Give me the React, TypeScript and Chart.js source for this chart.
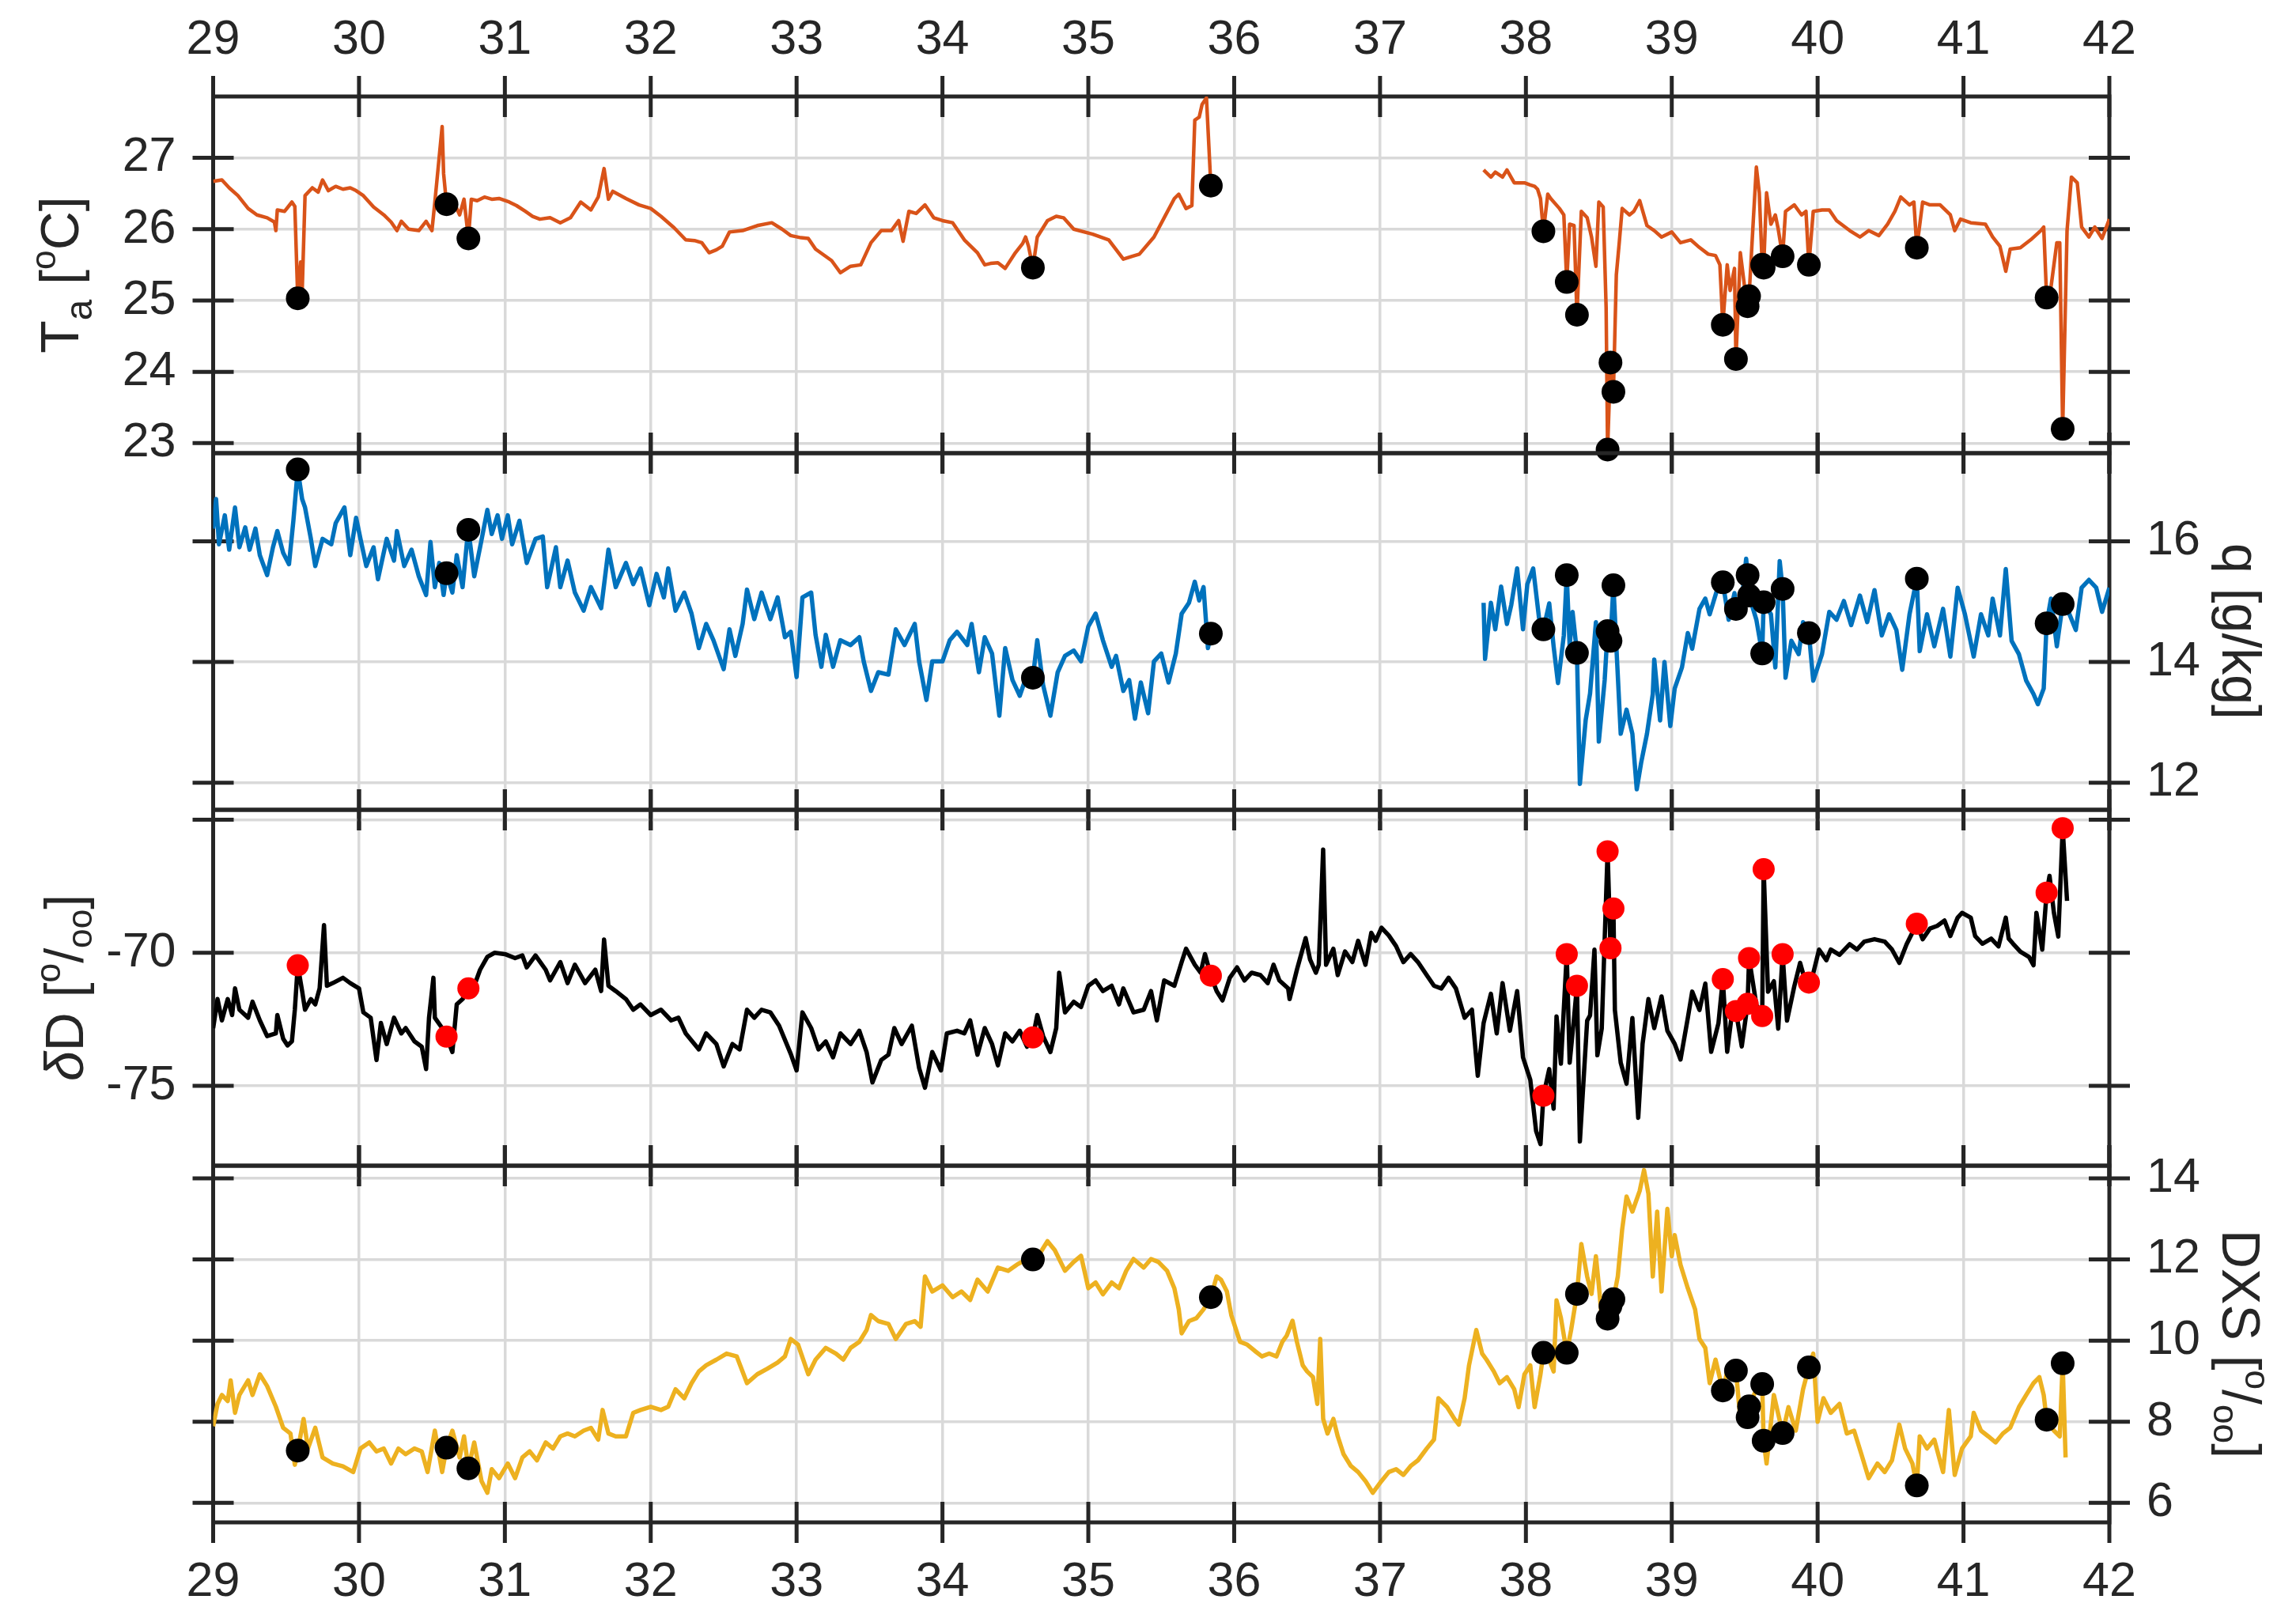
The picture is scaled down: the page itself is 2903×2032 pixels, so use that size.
import React, { useEffect, useRef } from 'react';
import { Chart, registerables } from 'chart.js';

Chart.register(...registerables);

// ---------------- data ----------------
const X_TICKS = [29, 30, 31, 32, 33, 34, 35, 36, 37, 38, 39, 40, 41, 42];
const TA_TICKS = [23, 24, 25, 26, 27];
const TA_TICK_LABELS = ['23', '24', '25', '26', '27'];
const Q_TICKS = [12, 14, 16];
const Q_TICK_LABELS = ['12', '14', '16'];
const DD_TICKS = [-75, -70, -65];
const DD_TICK_LABELS = ['-75', '-70', ''];
const DXS_TICKS = [6, 8, 10, 12, 14];
const DXS_TICK_LABELS = ['6', '8', '10', '12', '14'];

// sampling times (day of month) of the discrete samples (dots)
const SAMPLE_DAYS = [29.58, 30.6, 30.75, 34.62, 35.84, 38.12, 38.28, 38.35, 38.56, 38.58, 38.6, 39.35, 39.44, 39.52, 39.53, 39.62, 39.63, 39.76, 39.94, 40.68, 41.57, 41.68];
const TA_SAMPLES = [25.03, 26.35, 25.87, 25.46, 26.61, 25.97, 25.26, 24.8, 22.91, 24.13, 23.72, 24.66, 24.18, 24.92, 25.06, 25.5, 25.46, 25.62, 25.5, 25.74, 25.04, 23.2];
const Q_SAMPLES = [17.19, 15.47, 16.19, 13.74, 14.47, 14.54, 15.44, 14.15, 14.51, 14.35, 15.27, 15.32, 14.88, 15.44, 15.1, 14.14, 14.99, 15.21, 14.48, 15.38, 14.64, 14.96];
const DD_SAMPLES = [-70.47, -73.15, -71.34, -73.18, -70.86, -75.37, -70.05, -71.24, -66.19, -69.83, -68.34, -70.99, -72.19, -71.92, -70.2, -72.38, -66.86, -70.05, -71.12, -68.91, -67.74, -65.32];
const DXS_SAMPLES = [7.29, 7.36, 6.85, 12.0, 11.07, 9.7, 9.7, 11.15, 10.54, 10.85, 11.02, 8.77, 9.26, 8.11, 8.38, 8.93, 7.53, 7.72, 9.34, 6.43, 8.05, 9.44];

// continuous records [day, value] (null = no data)
const TA_TRACE: [number, number | null][] = [
  [29.0, 26.67], [29.06, 26.69], [29.11, 26.58], [29.17, 26.47], [29.24, 26.29], [29.3, 26.2], [29.37, 26.16], [29.42, 26.1], [29.43, 25.98], [29.44, 26.27],
  [29.49, 26.25], [29.54, 26.38], [29.56, 26.32], [29.6, 25.54], [29.61, 25.1], [29.63, 26.47], [29.68, 26.58], [29.72, 26.52], [29.75, 26.69], [29.79, 26.54],
  [29.84, 26.6], [29.89, 26.56], [29.94, 26.58], [29.98, 26.54], [30.03, 26.47], [30.1, 26.31], [30.17, 26.2], [30.22, 26.1], [30.26, 25.98], [30.29, 26.11],
  [30.34, 26.0], [30.41, 25.98], [30.46, 26.11], [30.5, 25.98], [30.52, 26.38], [30.57, 27.44], [30.58, 26.78], [30.65, 26.38], [30.69, 26.2], [30.72, 26.42],
  [30.77, 26.42], [30.81, 26.4], [30.86, 26.45], [30.91, 26.42], [30.96, 26.43], [31.03, 26.38], [31.08, 26.33], [31.14, 26.25], [31.19, 26.18], [31.24, 26.14],
  [31.31, 26.16], [31.38, 26.09], [31.45, 26.16], [31.52, 26.38], [31.59, 26.27], [31.64, 26.45], [31.68, 26.85], [31.71, 26.42], [31.74, 26.53], [31.83, 26.43],
  [31.92, 26.34], [32.0, 26.29], [32.07, 26.18], [32.16, 26.02], [32.24, 25.85], [32.3, 25.84], [32.35, 25.81], [32.4, 25.67], [32.45, 25.71], [32.49, 25.76],
  [32.54, 25.96], [32.63, 25.98], [32.73, 26.05], [32.83, 26.09], [32.9, 26.0], [32.96, 25.91], [33.03, 25.88], [33.08, 25.87], [33.13, 25.72], [33.24, 25.56],
  [33.3, 25.39], [33.37, 25.48], [33.44, 25.5], [33.51, 25.81], [33.58, 25.98], [33.65, 25.98], [33.7, 26.12], [33.73, 25.83], [33.77, 26.25], [33.82, 26.22],
  [33.88, 26.34], [33.94, 26.16], [34.0, 26.12], [34.07, 26.09], [34.15, 25.85], [34.24, 25.67], [34.29, 25.5], [34.33, 25.52], [34.38, 25.53], [34.43, 25.45],
  [34.5, 25.67], [34.55, 25.8], [34.57, 25.89], [34.59, 25.76], [34.65, 25.89], [34.72, 26.12], [34.78, 26.18], [34.83, 26.16], [34.9, 26.0], [35.03, 25.93],
  [35.14, 25.85], [35.24, 25.58], [35.3, 25.62], [35.35, 25.65], [35.45, 25.89], [35.52, 26.16], [35.59, 26.43], [35.62, 26.49], [35.67, 26.29], [35.71, 26.33],
  [35.73, 27.53], [35.76, 27.57], [35.78, 27.75], [35.81, 27.84], [36.7, null],
  [37.71, 26.83], [37.76, 26.73], [37.79, 26.8], [37.84, 26.73], [37.87, 26.83], [37.92, 26.65], [37.99, 26.65], [38.03, 26.62], [38.06, 26.6], [38.08, 26.56],
  [38.1, 26.43], [38.15, 26.49], [38.17, 26.43], [38.23, 26.29], [38.26, 26.2], [38.3, 26.07], [38.33, 26.05], [38.38, 26.25], [38.42, 26.16], [38.45, 25.89],
  [38.48, 25.48], [38.5, 26.38], [38.53, 26.31], [38.55, 24.9], [38.62, 25.36], [38.64, 25.81], [38.66, 26.29], [38.71, 26.2], [38.74, 26.25], [38.78, 26.4],
  [38.83, 26.05], [38.88, 25.98], [38.93, 25.89], [39.0, 25.96], [39.06, 25.81], [39.13, 25.85], [39.18, 25.76], [39.25, 25.65], [39.3, 25.63], [39.33, 25.5],
  [39.38, 25.5], [39.4, 25.14], [39.43, 25.45], [39.47, 25.67], [39.5, 25.18], [39.51, 25.07], [39.56, 26.16], [39.58, 26.87], [39.6, 26.51], [39.65, 26.51],
  [39.68, 26.07], [39.71, 26.2], [39.73, 26.0], [39.78, 26.25], [39.84, 26.34], [39.89, 26.2], [39.92, 26.25], [39.97, 26.25], [40.03, 26.27], [40.08, 26.27],
  [40.13, 26.12], [40.22, 25.98], [40.29, 25.89], [40.35, 25.98], [40.42, 25.91], [40.48, 26.07], [40.53, 26.25], [40.57, 26.45], [40.63, 26.34], [40.66, 26.38],
  [40.72, 26.38], [40.77, 26.34], [40.84, 26.34], [40.91, 26.2], [40.94, 25.98], [40.98, 26.14], [41.05, 26.09], [41.15, 26.07], [41.2, 25.89], [41.25, 25.76],
  [41.29, 25.41], [41.32, 25.72], [41.39, 25.74], [41.46, 25.85], [41.53, 25.98], [41.55, 26.03], [41.6, 25.19], [41.64, 25.81], [41.66, 25.81], [41.71, 25.98],
  [41.74, 26.73], [41.78, 26.65], [41.81, 26.03], [41.86, 25.89], [41.9, 26.03], [41.95, 25.87], [42.0, 26.14],
];

const Q_TRACE: [number, number | null][] = [
  [29.0, 16.21], [29.02, 16.7], [29.04, 15.95], [29.08, 16.43], [29.11, 15.86], [29.15, 16.56], [29.18, 15.9], [29.22, 16.23], [29.25, 15.86], [29.29, 16.21],
  [29.32, 15.77], [29.37, 15.44], [29.41, 15.9], [29.44, 16.17], [29.48, 15.81], [29.52, 15.62], [29.55, 16.34], [29.61, 16.7], [29.63, 16.56], [29.67, 16.04],
  [29.7, 15.59], [29.75, 16.04], [29.81, 15.95], [29.84, 16.3], [29.9, 16.56], [29.94, 15.77], [29.98, 16.39], [30.01, 16.04], [30.05, 15.59], [30.1, 15.9],
  [30.13, 15.37], [30.19, 16.04], [30.24, 15.68], [30.26, 16.17], [30.31, 15.59], [30.36, 15.86], [30.41, 15.42], [30.46, 15.11], [30.49, 15.99], [30.52, 15.24],
  [30.55, 15.64], [30.58, 15.11], [30.64, 15.15], [30.67, 15.77], [30.71, 15.24], [30.74, 15.99], [30.79, 15.42], [30.83, 15.9], [30.88, 16.52], [30.91, 16.12],
  [30.95, 16.43], [30.98, 16.04], [31.02, 16.43], [31.05, 15.95], [31.1, 16.34], [31.15, 15.64], [31.21, 16.04], [31.26, 16.08], [31.29, 15.24], [31.35, 15.9],
  [31.38, 15.24], [31.43, 15.68], [31.48, 15.15], [31.54, 14.85], [31.59, 15.24], [31.66, 14.89], [31.71, 15.86], [31.76, 15.24], [31.83, 15.64], [31.88, 15.29],
  [31.93, 15.55], [31.99, 14.94], [32.04, 15.46], [32.09, 15.07], [32.12, 15.55], [32.17, 14.85], [32.23, 15.15], [32.28, 14.8], [32.33, 14.23], [32.38, 14.63],
  [32.43, 14.36], [32.5, 13.88], [32.54, 14.54], [32.58, 14.1], [32.63, 14.63], [32.66, 15.2], [32.71, 14.71], [32.76, 15.15], [32.82, 14.71], [32.87, 15.07],
  [32.92, 14.41], [32.96, 14.5], [33.0, 13.75], [33.04, 15.07], [33.1, 15.15], [33.13, 14.45], [33.17, 13.92], [33.2, 14.45], [33.25, 13.92], [33.3, 14.36],
  [33.37, 14.28], [33.43, 14.41], [33.46, 14.01], [33.51, 13.52], [33.56, 13.83], [33.63, 13.79], [33.68, 14.54], [33.74, 14.28], [33.81, 14.63], [33.84, 14.01],
  [33.89, 13.37], [33.93, 14.01], [34.0, 14.01], [34.05, 14.36], [34.1, 14.5], [34.17, 14.28], [34.2, 14.63], [34.25, 13.83], [34.29, 14.41], [34.34, 14.14],
  [34.39, 13.11], [34.43, 14.23], [34.48, 13.7], [34.53, 13.44], [34.58, 13.79], [34.65, 14.36], [34.69, 13.62], [34.74, 13.11], [34.79, 13.83], [34.84, 14.1],
  [34.9, 14.19], [34.95, 14.01], [35.0, 14.59], [35.05, 14.8], [35.1, 14.36], [35.16, 13.92], [35.19, 14.1], [35.24, 13.52], [35.28, 13.7], [35.32, 13.06],
  [35.36, 13.66], [35.41, 13.15], [35.45, 14.01], [35.5, 14.14], [35.55, 13.66], [35.6, 14.14], [35.64, 14.8], [35.69, 14.98], [35.73, 15.33], [35.76, 15.02],
  [35.79, 15.24], [35.82, 14.23], [36.7, null],
  [37.71, 14.98], [37.72, 14.05], [37.76, 14.98], [37.79, 14.54], [37.83, 15.25], [37.87, 14.63], [37.9, 14.95], [37.94, 15.55], [37.98, 14.54], [38.01, 15.29],
  [38.05, 15.55], [38.09, 14.73], [38.16, 14.97], [38.19, 14.26], [38.22, 13.65], [38.26, 14.44], [38.3, 14.26], [38.32, 14.83], [38.37, 11.98], [38.41, 13.04],
  [38.44, 13.48], [38.48, 14.66], [38.5, 12.68], [38.54, 13.7], [38.62, 14.26], [38.65, 12.81], [38.69, 13.21], [38.73, 12.81], [38.76, 11.89], [38.79, 12.33],
  [38.83, 12.81], [38.87, 13.47], [38.88, 14.04], [38.92, 13.03], [38.95, 14.0], [38.99, 12.94], [39.02, 13.56], [39.07, 13.91], [39.11, 14.48], [39.14, 14.22],
  [39.19, 14.88], [39.23, 15.05], [39.26, 14.79], [39.31, 15.19], [39.39, 14.7], [39.43, 15.14], [39.47, 14.79], [39.51, 15.71], [39.58, 14.7], [39.68, 14.79],
  [39.71, 13.91], [39.74, 15.67], [39.78, 13.74], [39.82, 14.35], [39.87, 14.13], [39.9, 14.66], [39.97, 13.69], [40.03, 14.13], [40.08, 14.83], [40.13, 14.7],
  [40.18, 15.01], [40.23, 14.61], [40.29, 15.1], [40.34, 14.66], [40.39, 15.19], [40.44, 14.44], [40.49, 14.79], [40.54, 14.53], [40.58, 13.87], [40.63, 14.79],
  [40.7, 14.18], [40.75, 14.79], [40.8, 14.26], [40.86, 14.88], [40.91, 14.09], [40.96, 15.23], [41.01, 14.79], [41.07, 14.09], [41.12, 14.79], [41.17, 14.44],
  [41.2, 15.05], [41.25, 14.44], [41.29, 15.54], [41.33, 14.35], [41.38, 14.13], [41.43, 13.69], [41.48, 13.47], [41.51, 13.3], [41.55, 13.56], [41.6, 15.05],
  [41.64, 14.26], [41.72, 14.83], [41.77, 14.53], [41.81, 15.23], [41.86, 15.36], [41.91, 15.23], [41.95, 14.83], [42.0, 15.23],
];

const DD_TRACE: [number, number | null][] = [
  [29.0, -72.83], [29.03, -71.74], [29.06, -72.54], [29.1, -71.74], [29.13, -72.34], [29.15, -71.34], [29.18, -72.14], [29.24, -72.44], [29.27, -71.84], [29.32, -72.54],
  [29.37, -73.13], [29.43, -73.03], [29.44, -72.34], [29.48, -73.23], [29.51, -73.48], [29.54, -73.33], [29.56, -72.14], [29.61, -71.44], [29.63, -72.14], [29.67, -71.74],
  [29.7, -71.94], [29.73, -71.34], [29.76, -68.96], [29.78, -71.24], [29.82, -71.14], [29.89, -70.94], [29.94, -71.14], [30.0, -71.34], [30.03, -72.24], [30.08, -72.44],
  [30.12, -74.03], [30.15, -72.64], [30.19, -73.43], [30.24, -72.44], [30.29, -73.03], [30.32, -72.83], [30.38, -73.33], [30.43, -73.53], [30.46, -74.37], [30.48, -72.44],
  [30.51, -70.94], [30.52, -72.44], [30.57, -72.83], [30.64, -73.73], [30.67, -71.94], [30.71, -71.74], [30.79, -71.24], [30.83, -70.64], [30.88, -70.15], [30.93, -70.0],
  [31.0, -70.05], [31.07, -70.2], [31.12, -70.1], [31.15, -70.55], [31.21, -70.1], [31.28, -70.64], [31.31, -71.04], [31.38, -70.35], [31.43, -71.14], [31.48, -70.45],
  [31.55, -71.14], [31.62, -70.64], [31.66, -71.44], [31.68, -69.5], [31.71, -71.24], [31.76, -71.44], [31.83, -71.74], [31.88, -72.14], [31.93, -71.94], [32.0, -72.34],
  [32.07, -72.14], [32.14, -72.54], [32.19, -72.44], [32.24, -73.03], [32.33, -73.63], [32.38, -73.03], [32.45, -73.43], [32.5, -74.27], [32.56, -73.43], [32.61, -73.63],
  [32.66, -72.14], [32.71, -72.44], [32.76, -72.14], [32.82, -72.24], [32.88, -72.74], [32.96, -73.8], [33.0, -74.42], [33.04, -72.24], [33.1, -72.83], [33.15, -73.63],
  [33.2, -73.33], [33.25, -73.93], [33.3, -73.03], [33.37, -73.43], [33.43, -72.93], [33.48, -73.73], [33.52, -74.87], [33.58, -74.03], [33.63, -73.83], [33.67, -72.83],
  [33.72, -73.43], [33.79, -72.74], [33.84, -74.33], [33.88, -75.07], [33.93, -73.73], [33.99, -74.42], [34.03, -73.03], [34.1, -72.93], [34.15, -73.03], [34.19, -72.54],
  [34.24, -73.83], [34.29, -72.83], [34.34, -73.43], [34.38, -74.23], [34.43, -73.03], [34.48, -73.33], [34.53, -72.93], [34.58, -73.53], [34.65, -72.34], [34.69, -73.13],
  [34.74, -73.73], [34.78, -72.83], [34.8, -70.75], [34.84, -72.24], [34.9, -71.84], [34.95, -72.04], [35.0, -71.24], [35.05, -71.04], [35.1, -71.44], [35.16, -71.24],
  [35.21, -71.94], [35.24, -71.34], [35.31, -72.24], [35.38, -72.14], [35.43, -71.44], [35.47, -72.54], [35.52, -71.04], [35.59, -71.24], [35.64, -70.35], [35.67, -69.85],
  [35.73, -70.45], [35.77, -70.75], [35.8, -70.05], [35.88, -71.44], [35.92, -71.79], [35.97, -70.94], [36.02, -70.55], [36.07, -71.04], [36.12, -70.75], [36.18, -70.84],
  [36.23, -71.14], [36.27, -70.45], [36.31, -71.04], [36.37, -71.34], [36.38, -71.74], [36.43, -70.64], [36.49, -69.45], [36.52, -70.25], [36.56, -70.75], [36.58, -70.45],
  [36.61, -66.12], [36.63, -70.45], [36.68, -69.85], [36.71, -70.84], [36.76, -69.95], [36.81, -70.35], [36.85, -69.55], [36.9, -70.45], [36.94, -69.25], [36.97, -69.55],
  [37.01, -69.06], [37.06, -69.35], [37.11, -69.75], [37.16, -70.35], [37.21, -70.05], [37.26, -70.35], [37.32, -70.84], [37.37, -71.24], [37.42, -71.34], [37.47, -70.94],
  [37.52, -71.34], [37.58, -72.44], [37.63, -72.14], [37.67, -74.62], [37.71, -72.64], [37.76, -71.54], [37.8, -73.03], [37.84, -71.14], [37.89, -72.93], [37.94, -71.44],
  [37.98, -73.93], [38.03, -74.77], [38.07, -76.7], [38.1, -77.19], [38.16, -74.37], [38.19, -75.86], [38.21, -72.39], [38.24, -74.17], [38.3, -74.13], [38.33, -72.45],
  [38.37, -77.09], [38.42, -72.55], [38.44, -72.35], [38.47, -69.88], [38.49, -73.85], [38.52, -72.85], [38.61, -72.15], [38.65, -74.13], [38.69, -74.92], [38.73, -72.45],
  [38.77, -76.2], [38.8, -73.42], [38.84, -71.74], [38.88, -72.83], [38.93, -71.64], [38.97, -72.93], [39.02, -73.42], [39.06, -74.01], [39.11, -72.45], [39.14, -71.46],
  [39.19, -72.15], [39.23, -71.16], [39.27, -73.72], [39.32, -72.65], [39.38, -73.72], [39.42, -71.96], [39.48, -73.52], [39.58, -71.96], [39.66, -71.46], [39.7, -71.07],
  [39.73, -72.85], [39.79, -72.55], [39.84, -71.26], [39.88, -70.38], [39.9, -70.77], [39.97, -70.77], [40.01, -69.88], [40.06, -70.28], [40.09, -69.88], [40.15, -70.08],
  [40.22, -69.68], [40.27, -69.88], [40.32, -69.58], [40.39, -69.49], [40.46, -69.58], [40.51, -69.88], [40.56, -70.38], [40.61, -69.68], [40.72, -69.49], [40.77, -69.09],
  [40.82, -68.99], [40.87, -68.79], [40.91, -69.37], [40.96, -68.68], [40.99, -68.5], [41.05, -68.68], [41.08, -69.37], [41.13, -69.66], [41.19, -69.47], [41.24, -69.76],
  [41.29, -68.68], [41.31, -69.47], [41.34, -69.66], [41.39, -69.96], [41.45, -70.16], [41.48, -70.47], [41.5, -68.5], [41.54, -69.88], [41.59, -67.11], [41.62, -68.5],
  [41.65, -69.39], [41.71, -68.05],
];

const DXS_TRACE: [number, number | null][] = [
  [29.0, 7.89], [29.03, 8.44], [29.06, 8.66], [29.1, 8.51], [29.12, 9.02], [29.15, 8.22], [29.18, 8.66], [29.24, 9.02], [29.27, 8.66], [29.32, 9.17],
  [29.37, 8.88], [29.43, 8.37], [29.48, 7.85], [29.53, 7.71], [29.56, 6.94], [29.62, 8.07], [29.65, 7.34], [29.7, 7.85], [29.75, 7.12], [29.82, 6.97],
  [29.89, 6.9], [29.96, 6.76], [30.01, 7.34], [30.07, 7.49], [30.12, 7.27], [30.17, 7.34], [30.22, 6.97], [30.27, 7.34], [30.32, 7.2], [30.38, 7.34],
  [30.43, 7.27], [30.47, 6.76], [30.52, 7.78], [30.57, 6.76], [30.64, 7.78], [30.69, 7.12], [30.72, 7.64], [30.79, 7.49], [30.84, 6.54], [30.88, 6.25],
  [30.91, 6.83], [30.96, 6.61], [31.02, 6.97], [31.07, 6.61], [31.12, 7.12], [31.17, 7.27], [31.22, 7.05], [31.28, 7.49], [31.33, 7.34], [31.38, 7.64],
  [31.43, 7.71], [31.48, 7.64], [31.54, 7.78], [31.59, 7.85], [31.64, 7.56], [31.67, 8.29], [31.71, 7.71], [31.76, 7.64], [31.83, 7.64], [31.88, 8.22],
  [31.93, 8.29], [32.0, 8.37], [32.07, 8.29], [32.12, 8.37], [32.17, 8.8], [32.23, 8.58], [32.28, 8.95], [32.33, 9.24], [32.38, 9.39], [32.45, 9.53],
  [32.52, 9.68], [32.59, 9.61], [32.66, 8.95], [32.73, 9.17], [32.8, 9.31], [32.87, 9.46], [32.92, 9.61], [32.96, 10.04], [33.01, 9.9], [33.08, 9.17],
  [33.13, 9.53], [33.2, 9.82], [33.27, 9.68], [33.32, 9.53], [33.37, 9.82], [33.43, 9.97], [33.48, 10.26], [33.51, 10.63], [33.56, 10.48], [33.63, 10.41],
  [33.68, 10.04], [33.75, 10.41], [33.81, 10.48], [33.85, 10.34], [33.88, 11.58], [33.93, 11.21], [34.0, 11.36], [34.07, 11.07], [34.13, 11.21], [34.19, 11.0],
  [34.24, 11.5], [34.31, 11.21], [34.38, 11.8], [34.45, 11.72], [34.51, 11.87], [34.58, 12.01], [34.67, 12.16], [34.72, 12.45], [34.77, 12.23], [34.84, 11.72],
  [34.9, 11.94], [34.95, 12.09], [35.0, 11.29], [35.05, 11.43], [35.1, 11.14], [35.16, 11.43], [35.21, 11.29], [35.26, 11.72], [35.31, 12.01], [35.38, 11.8],
  [35.43, 12.01], [35.48, 11.94], [35.54, 11.72], [35.59, 11.29], [35.62, 10.77], [35.64, 10.18], [35.69, 10.48], [35.74, 10.55], [35.79, 10.77], [35.88, 11.58],
  [35.91, 11.5], [35.95, 11.21], [35.98, 10.63], [36.04, 9.97], [36.09, 9.9], [36.14, 9.75], [36.19, 9.61], [36.24, 9.68], [36.29, 9.61], [36.33, 9.97],
  [36.36, 10.12], [36.4, 10.49], [36.43, 9.97], [36.47, 9.39], [36.5, 9.24], [36.54, 9.1], [36.57, 8.44], [36.59, 10.04], [36.61, 8.07], [36.64, 7.71],
  [36.68, 8.07], [36.71, 7.64], [36.75, 7.2], [36.8, 6.91], [36.85, 6.76], [36.9, 6.54], [36.95, 6.25], [37.01, 6.54], [37.06, 6.76], [37.11, 6.83],
  [37.16, 6.69], [37.21, 6.91], [37.26, 7.05], [37.32, 7.34], [37.37, 7.56], [37.4, 8.58], [37.46, 8.36], [37.51, 8.07], [37.54, 7.93], [37.58, 8.58],
  [37.61, 9.39], [37.66, 10.26], [37.7, 9.68], [37.73, 9.53], [37.78, 9.24], [37.82, 8.95], [37.87, 9.1], [37.92, 8.8], [37.95, 8.36], [37.99, 9.17],
  [38.03, 9.39], [38.06, 8.36], [38.1, 9.17], [38.16, 9.53], [38.19, 9.24], [38.21, 10.99], [38.24, 10.56], [38.31, 10.26], [38.38, 12.38], [38.42, 11.58],
  [38.45, 11.15], [38.48, 12.08], [38.5, 11.36], [38.52, 10.55], [38.63, 11.58], [38.66, 12.74], [38.69, 13.55], [38.73, 13.18], [38.78, 13.69], [38.81, 14.2],
  [38.84, 13.62], [38.87, 11.58], [38.9, 13.18], [38.93, 11.21], [38.97, 13.25], [39.0, 12.08], [39.02, 12.6], [39.06, 11.87], [39.11, 11.29], [39.16, 10.77],
  [39.19, 10.04], [39.23, 9.82], [39.26, 8.95], [39.3, 9.53], [39.39, 9.39], [39.47, 8.07], [39.58, 8.8], [39.65, 6.97], [39.7, 8.66], [39.8, 8.36],
  [39.85, 7.78], [39.9, 8.8], [39.97, 9.68], [40.0, 8.0], [40.04, 8.58], [40.09, 8.22], [40.15, 8.44], [40.2, 7.71], [40.25, 7.78], [40.3, 7.2],
  [40.35, 6.61], [40.41, 6.97], [40.46, 6.76], [40.51, 7.05], [40.56, 7.93], [40.6, 7.34], [40.65, 6.97], [40.7, 7.64], [40.75, 7.34], [40.8, 7.56],
  [40.86, 6.76], [40.9, 8.29], [40.94, 6.69], [40.99, 7.34], [41.05, 7.64], [41.07, 8.22], [41.12, 7.78], [41.17, 7.64], [41.22, 7.49], [41.27, 7.71],
  [41.32, 7.85], [41.38, 8.36], [41.43, 8.66], [41.48, 8.95], [41.52, 9.1], [41.55, 8.66], [41.62, 7.78], [41.66, 7.64], [41.7, 7.12],
];

// ---------------- styling / layout ----------------
const W = 2903;
const H = 2032;
const PLOT_LEFT = 269.5;
const PLOT_RIGHT = 2667;
const EDGES = [122, 573, 1024, 1474, 1925];
const PAD = 40;
const FONT = "'Liberation Sans', Arial, Helvetica, sans-serif";
const AXIS_COLOR = '#262626';
const GRID_COLOR = '#d9d9d9';
const TICK_FONT = 61;
const TITLE_FONT = 68;
const TICK_LEN = 26;

type Seg = { t: string; s?: number; dy?: number; italic?: boolean };

const SUP_O: Seg = { t: 'o', s: 0.65, dy: -0.42 };
const SUB_OO: Seg = { t: 'oo', s: 0.65, dy: 0.16 };

interface PanelDef {
  trace: [number, number | null][];
  samples: number[];
  lineColor: string;
  lineWidth: number;
  dotColor: string;
  dotRadius: number;
  side: 'left' | 'right';
  min: number;
  max: number;
  ticks: number[];
  tickLabels: string[];
  title: Seg[];
  titleX: number;
}

const PANELS: PanelDef[] = [
  {
    trace: TA_TRACE, samples: TA_SAMPLES, lineColor: '#D95319', lineWidth: 4.5, dotColor: '#000000', dotRadius: 15,
    side: 'left', min: 22.86, max: 27.86, ticks: TA_TICKS, tickLabels: TA_TICK_LABELS,
    title: [{ t: 'T' }, { t: 'a', s: 0.7, dy: 0.25 }, { t: ' [' }, SUP_O, { t: 'C]' }], titleX: 99,
  },
  {
    trace: Q_TRACE, samples: Q_SAMPLES, lineColor: '#0072BD', lineWidth: 5.5, dotColor: '#000000', dotRadius: 15,
    side: 'right', min: 11.55, max: 17.46, ticks: Q_TICKS, tickLabels: Q_TICK_LABELS,
    title: [{ t: 'q [g/kg]' }], titleX: 2810,
  },
  {
    trace: DD_TRACE, samples: DD_SAMPLES, lineColor: '#000000', lineWidth: 5.5, dotColor: '#FF0000', dotRadius: 14,
    side: 'left', min: -78.0, max: -64.63, ticks: DD_TICKS, tickLabels: DD_TICK_LABELS,
    title: [{ t: 'δ', italic: true }, { t: 'D [' }, SUP_O, { t: '/' }, SUB_OO, { t: ']' }], titleX: 105,
  },
  {
    trace: DXS_TRACE, samples: DXS_SAMPLES, lineColor: '#EDB120', lineWidth: 5.5, dotColor: '#000000', dotRadius: 15,
    side: 'right', min: 5.52, max: 14.31, ticks: DXS_TICKS, tickLabels: DXS_TICK_LABELS,
    title: [{ t: 'DXS [' }, SUP_O, { t: '/' }, SUB_OO, { t: ']' }], titleX: 2810,
  },
];

function buildLine(trace: [number, number | null][], days: number[], samples: number[]) {
  const pts = trace.map(([x, y]) => ({ x, y }));
  days.forEach((d, i) => pts.push({ x: d, y: samples[i] }));
  pts.sort((a, b) => a.x - b.x);
  return pts;
}

function drawRichText(ctx: CanvasRenderingContext2D, segs: Seg[], x: number, y: number, rotation: number, size: number) {
  ctx.save();
  ctx.translate(x, y);
  ctx.rotate(rotation);
  const fontFor = (seg: Seg) => `${seg.italic ? 'italic ' : ''}${size * (seg.s ?? 1)}px ${FONT}`;
  let total = 0;
  const widths = segs.map((seg) => {
    ctx.font = fontFor(seg);
    const w = ctx.measureText(seg.t).width;
    total += w;
    return w;
  });
  let cx = -total / 2;
  ctx.fillStyle = AXIS_COLOR;
  ctx.textAlign = 'left';
  ctx.textBaseline = 'alphabetic';
  segs.forEach((seg, i) => {
    ctx.font = fontFor(seg);
    ctx.fillText(seg.t, cx, (seg.dy ?? 0) * size);
    cx += widths[i];
  });
  ctx.restore();
}

function Panel({ def, index }: { def: PanelDef; index: number }) {
  const ref = useRef<HTMLCanvasElement>(null);
  const isFirst = index === 0;
  const isLast = index === PANELS.length - 1;
  const top = EDGES[index];
  const bottom = EDGES[index + 1];
  const canvasTop = isFirst ? 0 : top - PAD;
  const canvasBottom = isLast ? H : bottom + PAD;
  const canvasH = canvasBottom - canvasTop;

  useEffect(() => {
    if (!ref.current) return;
    const framePlugin = {
      id: 'matlabFrame' + index,
      beforeDatasetsDraw(chart: any) {
        const { ctx, chartArea } = chart;
        const { left, right } = chartArea;
        const t = chartArea.top;
        const b = chartArea.bottom;
        const xs = chart.scales.x;
        const ys = chart.scales.y;
        ctx.save();
        ctx.strokeStyle = AXIS_COLOR;
        ctx.lineWidth = 5;
        ctx.lineCap = 'butt';
        ctx.beginPath();
        xs.ticks.forEach((tk: any) => {
          const px = xs.getPixelForValue(tk.value);
          ctx.moveTo(px, t - TICK_LEN);
          ctx.lineTo(px, t + TICK_LEN);
          ctx.moveTo(px, b - TICK_LEN);
          ctx.lineTo(px, b + TICK_LEN);
        });
        ys.ticks.forEach((tk: any) => {
          const py = ys.getPixelForValue(tk.value);
          ctx.moveTo(left - TICK_LEN, py);
          ctx.lineTo(left + TICK_LEN, py);
          ctx.moveTo(right - TICK_LEN, py);
          ctx.lineTo(right + TICK_LEN, py);
        });
        ctx.stroke();
        ctx.strokeRect(left, t, right - left, b - t);
        ctx.restore();
        drawRichText(ctx, def.title, def.titleX, (t + b) / 2, def.side === 'left' ? -Math.PI / 2 : Math.PI / 2, TITLE_FONT);
      },
    };

    const lineData = buildLine(def.trace, SAMPLE_DAYS, def.samples);
    const dotData = SAMPLE_DAYS.map((d, i) => ({ x: d, y: def.samples[i] }));

    const zeroPad = (axis: any) => {
      axis.paddingTop = 0;
      axis.paddingBottom = 0;
      axis.paddingLeft = 0;
      axis.paddingRight = 0;
    };

    const chart = new Chart(ref.current, {
      type: 'line',
      data: {
        datasets: [
          {
            type: 'scatter',
            data: dotData,
            showLine: false,
            pointRadius: def.dotRadius,
            pointHoverRadius: def.dotRadius,
            pointBackgroundColor: def.dotColor,
            pointBorderWidth: 0,
            borderColor: def.dotColor,
            clip: false,
          } as any,
          {
            type: 'line',
            data: lineData,
            borderColor: def.lineColor,
            borderWidth: def.lineWidth,
            borderJoinStyle: 'round',
            pointRadius: 0,
            pointHoverRadius: 0,
            tension: 0,
            spanGaps: false,
            fill: false,
          } as any,
        ],
      },
      options: {
        animation: false,
        responsive: false,
        maintainAspectRatio: false,
        events: [],
        layout: {
          padding: {
            top: isFirst ? 0 : PAD,
            bottom: isLast ? 0 : PAD,
            left: def.side === 'left' ? 0 : PLOT_LEFT,
            right: def.side === 'left' ? W - PLOT_RIGHT : 0,
          },
        },
        plugins: { legend: { display: false }, tooltip: { enabled: false } },
        scales: {
          x: {
            type: 'linear',
            position: isFirst ? 'top' : 'bottom',
            min: 29,
            max: 42,
            afterBuildTicks: (axis: any) => {
              axis.ticks = X_TICKS.map((v) => ({ value: v }));
            },
            afterFit: (axis: any) => {
              axis.height = isFirst ? top : isLast ? H - bottom : 0;
              zeroPad(axis);
            },
            ticks: {
              display: isFirst || isLast,
              autoSkip: false,
              maxRotation: 0,
              padding: isFirst ? 34 : 40,
              color: AXIS_COLOR,
              font: { family: FONT, size: TICK_FONT },
              callback: (v: any) => String(v),
            },
            grid: { color: GRID_COLOR, lineWidth: 3.5, drawTicks: false },
            border: { display: false },
          },
          y: {
            type: 'linear',
            position: def.side,
            min: def.min,
            max: def.max,
            afterBuildTicks: (axis: any) => {
              axis.ticks = def.ticks.map((v) => ({ value: v }));
            },
            afterFit: (axis: any) => {
              axis.width = def.side === 'left' ? PLOT_LEFT : W - PLOT_RIGHT;
              zeroPad(axis);
            },
            ticks: {
              autoSkip: false,
              padding: 47,
              color: AXIS_COLOR,
              font: { family: FONT, size: TICK_FONT },
              callback: (v: any) => {
                const i = def.ticks.indexOf(Number(v));
                return i >= 0 ? def.tickLabels[i] : '';
              },
            },
            grid: { color: GRID_COLOR, lineWidth: 3.5, drawTicks: false },
            border: { display: false },
          },
        },
      } as any,
      plugins: [framePlugin],
    });
    return () => chart.destroy();
  }, []);

  return (
    <canvas
      ref={ref}
      width={W}
      height={canvasH}
      style={{ position: 'absolute', left: 0, top: canvasTop, width: W, height: canvasH }}
    />
  );
}

export default function App() {
  return (
    <div style={{ position: 'absolute', left: 0, top: 0, width: W, height: H, background: '#ffffff', overflow: 'hidden' }}>
      {PANELS.map((def, i) => (
        <Panel key={i} def={def} index={i} />
      ))}
    </div>
  );
}
